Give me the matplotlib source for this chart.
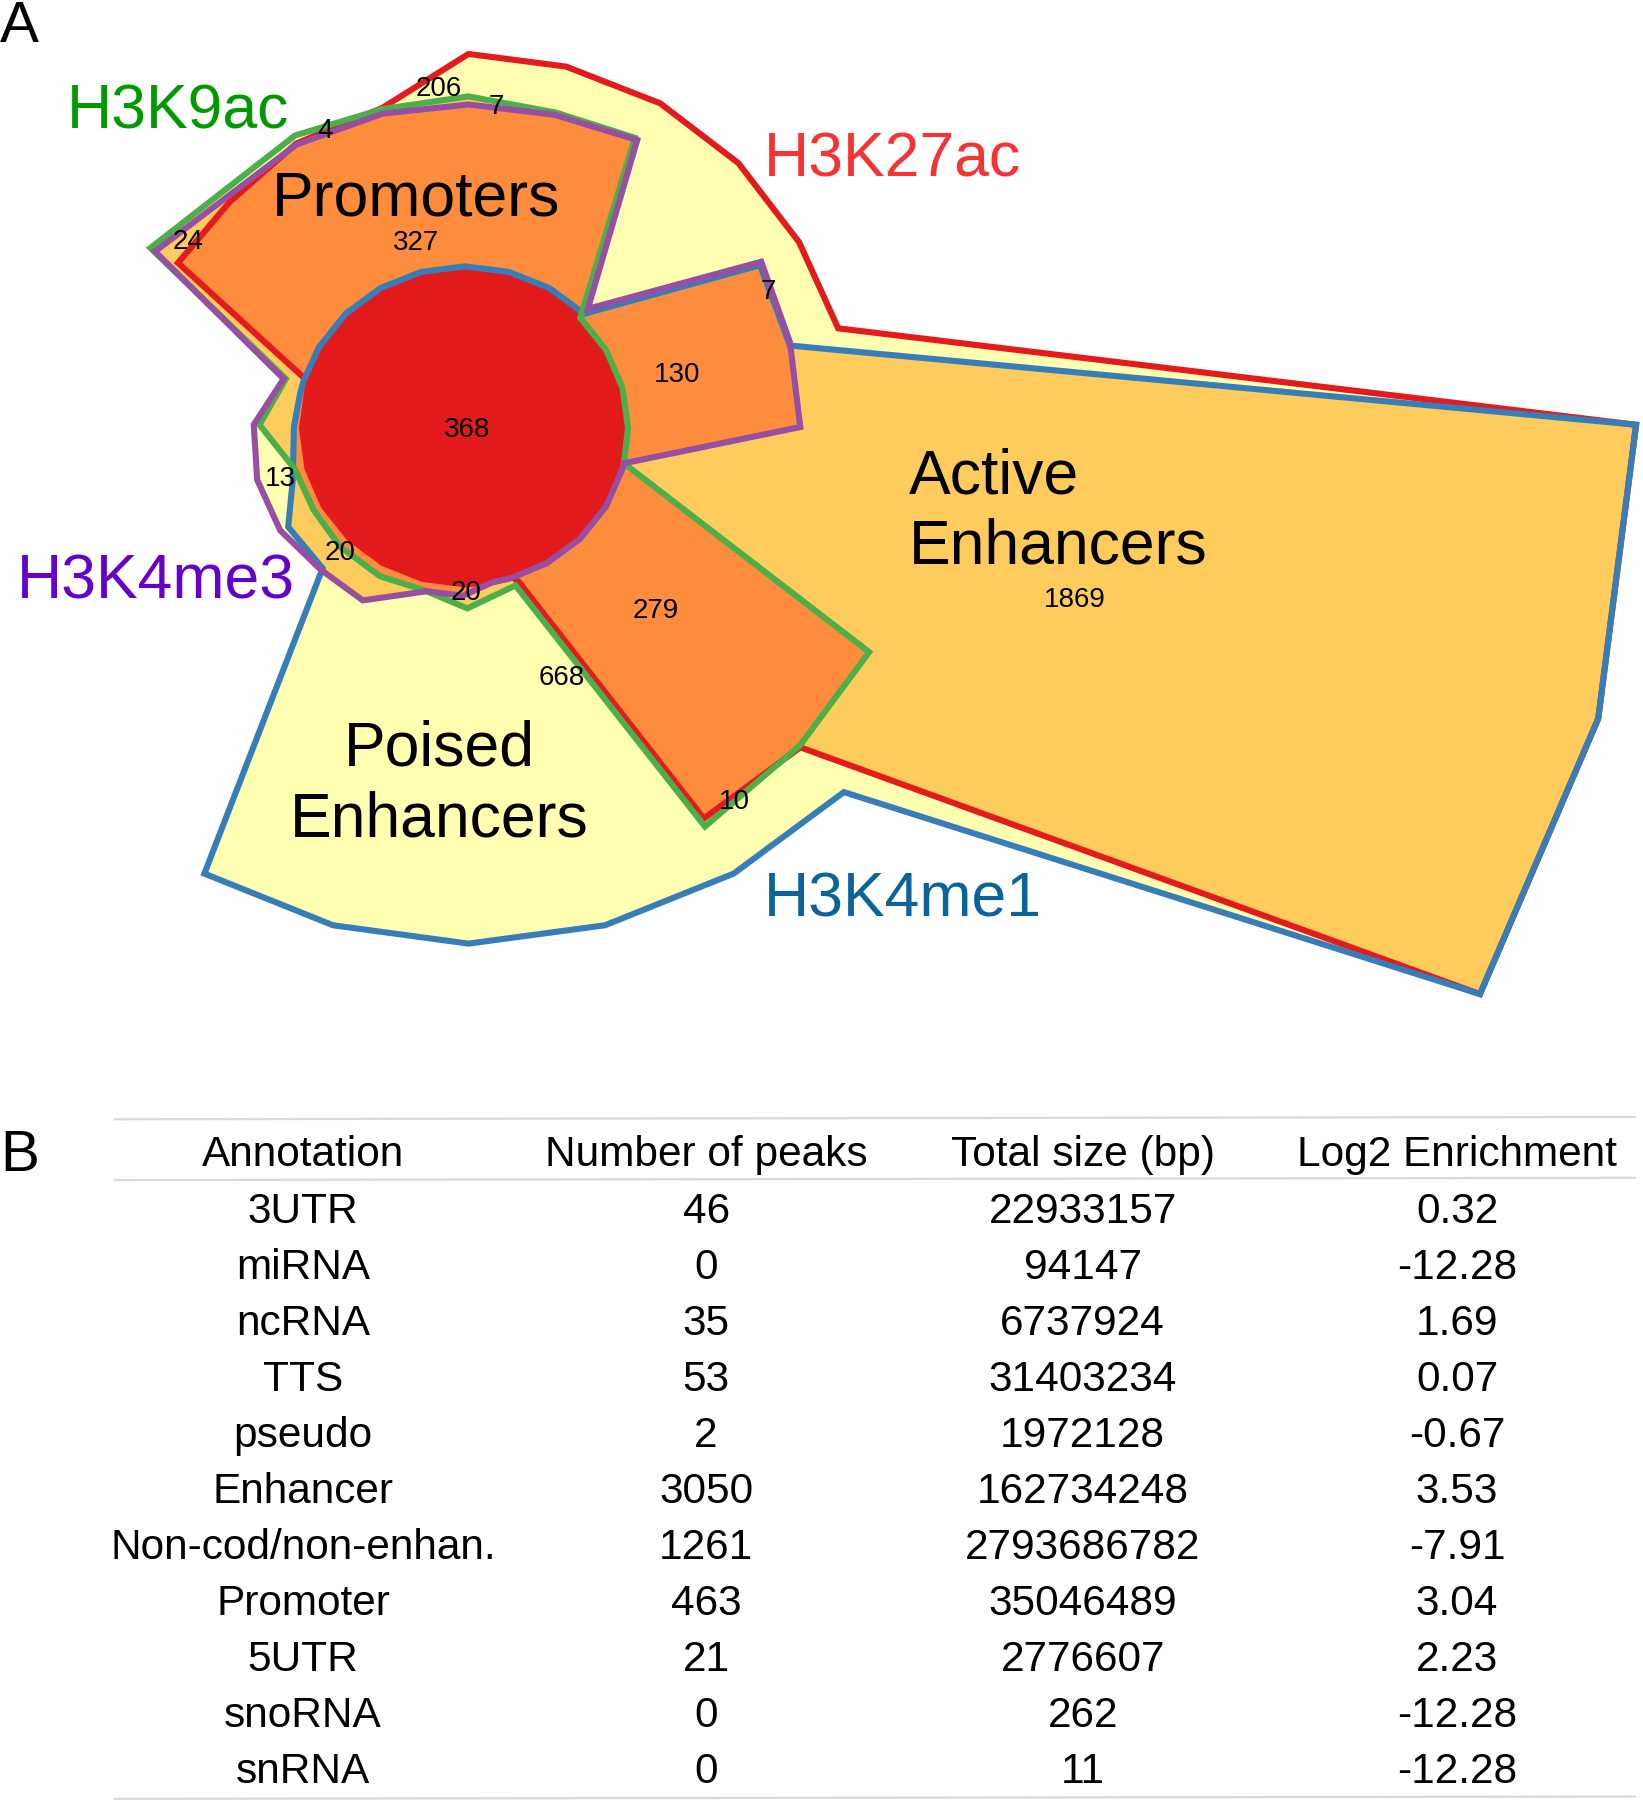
import numpy as np
import matplotlib
matplotlib.use("Agg")
import matplotlib.pyplot as plt
from matplotlib.path import Path
from matplotlib.patches import Polygon
from matplotlib.colors import to_rgba

plt.rcParams['font.family'] = ['Liberation Sans', 'DejaVu Sans']

# ---------------- data ----------------
set_names = ["H3K27ac", "H3K9ac", "H3K4me3", "H3K4me1"]
region_counts = [206, 7, 4, 24, 327, 7, 130, 368, 13, 20, 20, 279, 1869, 668, 10]
group_names = ["Promoters", "Active", "Enhancers", "Poised", "Enhancers"]

table_header = ["Annotation", "Number of peaks", "Total size (bp)", "Log2 Enrichment"]
annotation = ["3UTR", "miRNA", "ncRNA", "TTS", "pseudo", "Enhancer",
              "Non-cod/non-enhan.", "Promoter", "5UTR", "snoRNA", "snRNA"]
n_peaks = [46, 0, 35, 53, 2, 3050, 1261, 463, 21, 0, 0]
total_size = [22933157, 94147, 6737924, 31403234, 1972128, 162734248,
              2793686782, 35046489, 2776607, 262, 11]
log2_enrichment = [0.32, -12.28, 1.69, 0.07, -0.67, 3.53, -7.91, 3.04, 2.23,
                   -12.28, -12.28]

# ---------------- styles ----------------
fill_colors = ['#FFFFB2', '#FECC5C', '#FD8D3C', '#E31A1C']     # 1..4 sets
line_colors = ['#E41A1C', '#4DAF4A', '#984EA3', '#377EB8']     # red, green, purple, blue
label_colors = ['#F53333', '#009A00', '#6600CC', '#0A6399']

# ---------------- geometry (canvas units) ----------------
W, H = 1431, 1568
CX, CY, RX, RY = 405, 373, 142, 136
SPECIAL = [-13, -73, -80, 163]
base = sorted(set([a % 360 for a in list(range(0, 360, 15)) + SPECIAL]))


def ept(a, off=0):
    t = np.deg2rad(a)
    return (CX + (RX + off) * np.cos(t), CY - (RY + off) * np.sin(t))


def arc(a0, a1, off=0):
    cands = [b + k * 360 for b in base for k in (-1, 0, 1)]
    lo, hi = min(a0, a1), max(a0, a1)
    mids = sorted([c for c in cands if lo < c < hi], reverse=(a0 > a1))
    return [ept(a, off) for a in [a0] + mids + [a1]]


red_set = ([(408, 47), (493, 58), (575, 90), (643, 142), (696, 211), (730, 286),
            (1425, 370), (1392, 626), (1289, 866), (697, 651), (613, 713), (452, 507)]
           + arc(-73, -197)
           + [(155, 229), (200, 176), (258, 125), (333, 94)])
green_set = ([(131, 216), (257, 118), (333, 95), (408, 84), (484, 98), (553, 120)]
             + arc(45, -13)
             + [(757, 568), (697, 649), (614, 720), (449, 510), (407, 530), (369, 514),
                (331, 502), (296, 476), (273, 444), (257, 409), (226, 370), (249, 330)])
purple_set = ([(135, 219), (258, 126), (333, 99), (408, 91), (483, 100), (555, 122),
               (512, 269), (663, 228), (688, 298), (697, 372)]
              + arc(-13, -80)
              + [(403, 519), (372, 515), (316, 523), (279, 496), (244, 462), (224, 418),
                 (221, 370), (247, 330)])
blue_set = (arc(45, 168, off=5)
            + [(256, 372), (255, 418), (251, 459), (281, 495), (178, 761), (290, 806),
               (408, 822), (527, 806), (639, 761), (735, 690), (1289, 866), (1392, 626),
               (1425, 370), (688, 301), (662, 231)])
sets = [red_set, green_set, purple_set, blue_set]

count_pos = [(382, 75), (432, 91), (283, 112), (164, 208), (362, 209), (669, 252),
             (590, 324), (407, 372), (244, 415), (296, 479), (406, 514), (571, 530),
             (936, 520), (489, 588), (640, 696)]
set_label_pos = [(665, 154), (58, 112), (15, 521), (665, 798)]
group_pos = [(362, 188, 'center'), (792, 430, 'left'), (792, 491, 'left'),
             (383, 667, 'center'), (383, 729, 'center')]

# ---------------- figure ----------------
fig = plt.figure(figsize=(16.43, 18.0), dpi=100)
ax = fig.add_axes([0, 0, 1, 1])
ax.set_axis_off()

# overlap-count fill (raster of the 4 set polygons)
ymax = 930
nx = 1643
ny = int(round(ymax * 1800 / H))
xs = (np.arange(nx) + 0.5) * W / nx
ys = (np.arange(ny) + 0.5) * ymax / ny
XX, YY = np.meshgrid(xs, ys)
pts = np.column_stack([XX.ravel(), YY.ravel()])
count = np.zeros(len(pts), dtype=int)
for s in sets:
    count += Path(np.array(s)).contains_points(pts).astype(int)
count = count.reshape(ny, nx)
pal = np.array([(1, 1, 1, 0)] + [to_rgba(c) for c in fill_colors])
img = pal[count]
ax.imshow(img, extent=(0, W, ymax, 0), interpolation='nearest', aspect='auto', zorder=1)

# outlines: red, blue, green, purple
for idx in [0, 3, 1, 2]:
    ax.add_patch(Polygon(np.array(sets[idx]), closed=True, fill=False,
                         ec=line_colors[idx], lw=4.4, joinstyle='miter', zorder=3))

# region counts
for (x, y), c in zip(count_pos, region_counts):
    ax.text(x, y + 8.5, str(c), fontsize=20, ha='center', va='baseline', zorder=5)

# set labels
for (x, y), name, col in zip(set_label_pos, set_names, label_colors):
    ax.text(x, y, name, fontsize=45, color=col, ha='left', va='baseline', zorder=5)

# group labels
for (x, y, ha), g in zip(group_pos, group_names):
    ax.text(x, y, g, fontsize=45, ha=ha, va='baseline', zorder=5)

# panel letters
ax.text(0, 37, "A", fontsize=42, ha='left', va='baseline')
ax.text(0, 1020, "B", fontsize=42, ha='left', va='baseline')

# ---------------- table ----------------
col_x = [264, 615, 943, 1269]
header_y = 1003
row0_y = 1052
row_dy = 48.8
line_c = '#DADADA'
ax.plot([100, 1424], [975, 973], color=line_c, lw=1.6)
ax.plot([100, 1424], [1028, 1026], color=line_c, lw=1.6)
ax.plot([100, 1424], [1567, 1565], color=line_c, lw=1.6)
for x, h in zip(col_x, table_header):
    ax.text(x, header_y + 13, h, fontsize=30.5, ha='center', va='baseline')
for i in range(len(annotation)):
    y = row0_y + i * row_dy + 13
    vals = [annotation[i], str(n_peaks[i]), str(total_size[i]), f"{log2_enrichment[i]:.2f}"]
    for x, v in zip(col_x, vals):
        ax.text(x, y, v, fontsize=30.5, ha='center', va='baseline')

ax.set_xlim(0, W)
ax.set_ylim(H, 0)
fig.savefig("out.png", dpi=100)
